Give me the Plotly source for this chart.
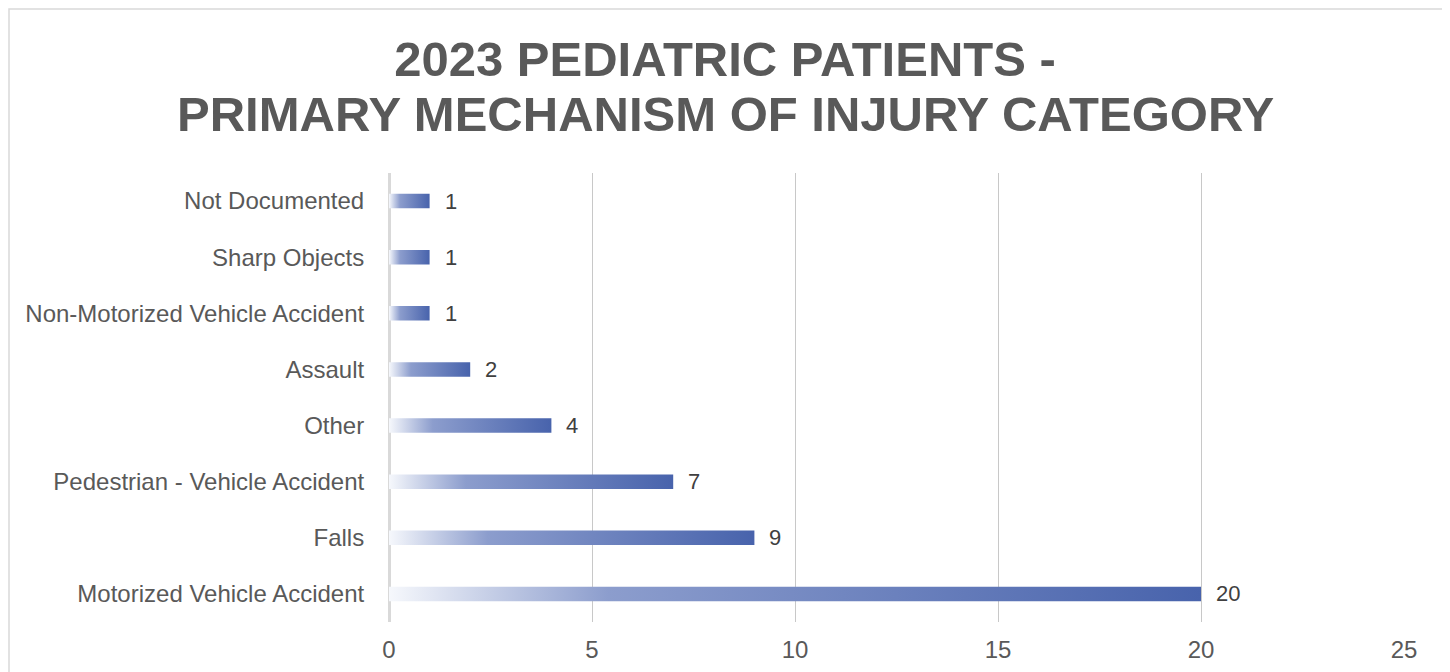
import plotly.graph_objects as go

categories = [
    "Motorized Vehicle Accident",
    "Falls",
    "Pedestrian - Vehicle Accident",
    "Other",
    "Assault",
    "Non-Motorized Vehicle Accident",
    "Sharp Objects",
    "Not Documented",
]
values = [20, 9, 7, 4, 2, 1, 1, 1]
x_ticks = [0, 5, 10, 15, 20, 25]

title_line1 = "2023 PEDIATRIC PATIENTS -"
title_line2 = "PRIMARY MECHANISM OF INJURY CATEGORY"

FONT = "Liberation Sans, Arial, sans-serif"
TITLE_FONT = dict(family=FONT, size=49, color="#595959", weight="bold")
BAR_HALF = 0.13
GRADIENT = [
    [0.0, "rgb(246,248,252)"],
    [0.27, "rgb(140,157,205)"],
    [1.0, "rgb(72,99,172)"],
]

# page has an 8px body margin; the figure fills the rest of the 1450x672 window
OFF = 8
W, H = 1450 - OFF, 672 - OFF
L, R, T, B = 389 - OFF, 46, 173 - OFF, 50
pw, ph = W - L - R, H - T - B


def paper_y(page_y):
    return (T + ph - (page_y - OFF)) / ph


def paper_x(page_x):
    return (page_x - OFF - L) / pw


fig = go.Figure()
for i, (cat, v) in enumerate(zip(categories, values)):
    fig.add_trace(go.Scatter(
        x=[0, v, v, 0, 0],
        y=[i - BAR_HALF, i - BAR_HALF, i + BAR_HALF, i + BAR_HALF, i - BAR_HALF],
        mode="lines",
        line=dict(width=0),
        fill="toself",
        fillgradient=dict(type="horizontal", colorscale=GRADIENT, start=0, stop=v),
        name=cat,
        hovertemplate=f"{cat}: {v}<extra></extra>",
        showlegend=False,
    ))
    fig.add_annotation(
        x=v, y=i, text=str(v), showarrow=False, xanchor="left", xshift=13,
        font=dict(family=FONT, size=22, color="#404040"),
    )

# second title line
fig.add_annotation(
    xref="paper", yref="paper", x=paper_x(725), y=paper_y(114),
    text=title_line2, showarrow=False, xanchor="center", yanchor="middle",
    font=TITLE_FONT,
)

# outer chart border
fig.add_shape(
    type="rect", xref="paper", yref="paper",
    x0=paper_x(9), x1=paper_x(1444), y0=paper_y(680), y1=paper_y(9),
    line=dict(color="#d9d9d9", width=1.5), fillcolor="rgba(0,0,0,0)", layer="below",
)

fig.update_layout(
    width=W, height=H,
    margin=dict(l=L, r=R, t=T, b=B),
    paper_bgcolor="white", plot_bgcolor="white",
    title=dict(
        text=title_line1, x=(725 - OFF) / W, xref="container", xanchor="center",
        y=1 - (59 - OFF) / H, yref="container", yanchor="middle",
        font=TITLE_FONT,
    ),
    xaxis=dict(
        range=[0, 25], tickvals=x_ticks, ticktext=[str(t) for t in x_ticks],
        showgrid=True, gridcolor="#c8c8c8", gridwidth=1,
        zeroline=True, zerolinecolor="#d9d9d9", zerolinewidth=3,
        showline=False, ticks="outside", ticklen=6, tickcolor="rgba(0,0,0,0)",
        tickfont=dict(family=FONT, size=24, color="#595959"),
        fixedrange=True, automargin=False,
    ),
    yaxis=dict(
        range=[-0.5, 7.5], tickvals=list(range(len(categories))), ticktext=categories,
        showgrid=False, zeroline=False, showline=False,
        ticks="outside", ticklen=19, tickcolor="rgba(0,0,0,0)",
        tickfont=dict(family=FONT, size=24, color="#595959"),
        fixedrange=True, automargin=False,
    ),
)

fig.write_html("out.html")
